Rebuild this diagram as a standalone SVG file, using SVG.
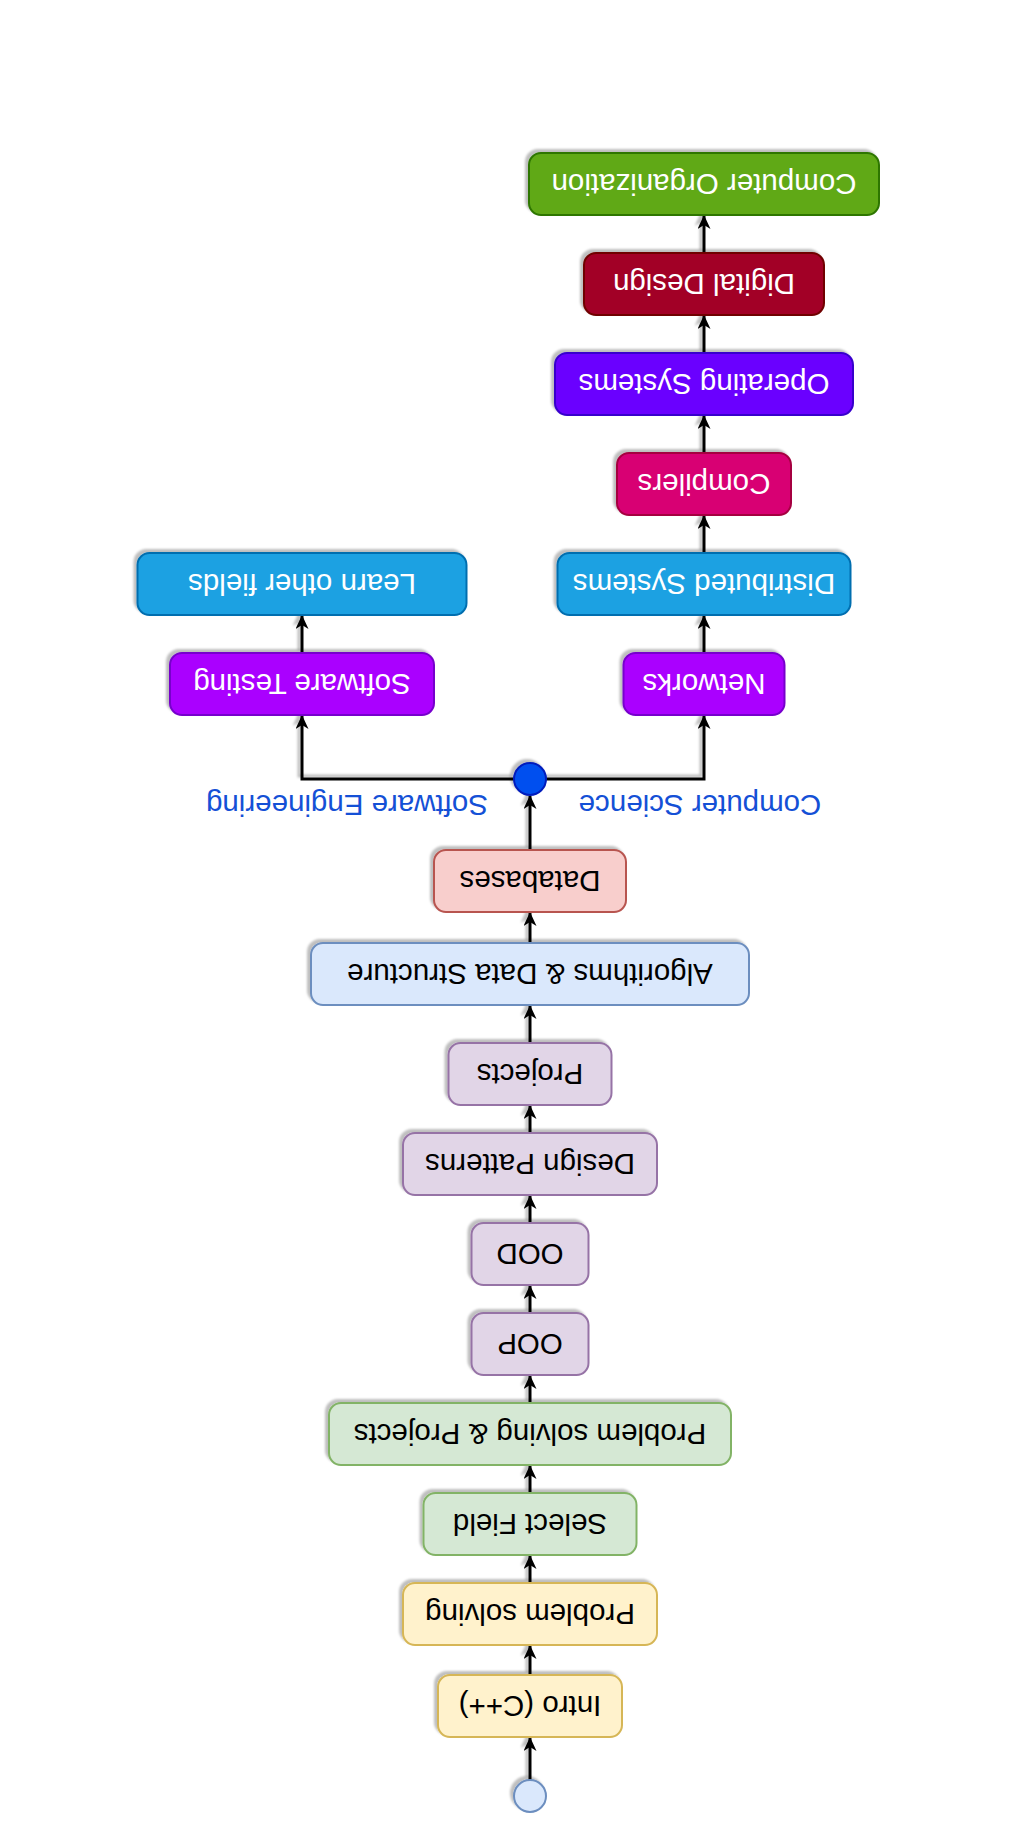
<svg xmlns="http://www.w3.org/2000/svg" width="1030" height="1846" viewBox="0 0 1030 1846">
<defs>
<filter id="sh" filterUnits="userSpaceOnUse" x="0" y="0" width="1030" height="1846">
<feDropShadow dx="-3" dy="-3" stdDeviation="1.2" flood-color="#000" flood-opacity="0.25"/>
</filter>
<marker id="arr" viewBox="0 0 14 13" refX="13" refY="6.5" markerWidth="14" markerHeight="13" markerUnits="userSpaceOnUse" orient="auto">
<path d="M0,0 L14,6.5 L0,13 L4,6.5 Z" fill="#000"/>
</marker>
</defs>
<style>
.b{stroke-width:2;filter:url(#sh)}
.t{font-family:"Liberation Sans",Arial,Helvetica,sans-serif;font-size:29.5px;text-anchor:middle}
.w{fill:#ffffff}
.k{fill:#000000}
.lbl{fill:#1450d6}
.c{fill:none;stroke:#000;stroke-width:3;marker-end:url(#arr);filter:url(#sh)}
</style>
<rect width="1030" height="1846" fill="#ffffff"/>
<g id="connectors">
<path class="c" d="M530,1780 L530,1738"/>
<path class="c" d="M530,1675 L530,1646"/>
<path class="c" d="M530,1583 L530,1556"/>
<path class="c" d="M530,1493 L530,1466"/>
<path class="c" d="M530,1403 L530,1376"/>
<path class="c" d="M530,1313 L530,1286"/>
<path class="c" d="M530,1223 L530,1196"/>
<path class="c" d="M530,1133 L530,1106"/>
<path class="c" d="M530,1043 L530,1006"/>
<path class="c" d="M530,943 L530,913"/>
<path class="c" d="M530,850 L530,796"/>
<path class="c" d="M514,779 L302,779 L302,716"/>
<path class="c" d="M546,779 L704,779 L704,716"/>
<path class="c" d="M704,653 L704,616"/>
<path class="c" d="M704,553 L704,516"/>
<path class="c" d="M704,453 L704,416"/>
<path class="c" d="M704,353 L704,316"/>
<path class="c" d="M704,253 L704,216"/>
<path class="c" d="M302,653 L302,616"/>
</g>
<g id="start"><circle class="b" cx="530" cy="1796" r="16" fill="#dae8fc" stroke="#6c8ebf"/></g>
<g id="branch"><circle class="b" cx="530" cy="779" r="16" fill="#0050ef" stroke="#001DBC"/></g>
<g id="label-se"><text class="t lbl" x="347" y="815.5" transform="rotate(180 347 805)">Software Engineering</text></g>
<g id="label-cs"><text class="t lbl" x="700" y="815.5" transform="rotate(180 700 805)">Computer Science</text></g>
<g id="co"><rect class="b" x="529" y="153" width="350" height="62" rx="12" fill="#60a917" stroke="#2D7600"/><text class="t w" x="704" y="194.5" transform="rotate(180 704 184)">Computer Organization</text></g>
<g id="dd"><rect class="b" x="584" y="253" width="240" height="62" rx="12" fill="#a20025" stroke="#6F0000"/><text class="t w" x="704" y="294.5" transform="rotate(180 704 284)">Digital Design</text></g>
<g id="os"><rect class="b" x="555" y="353" width="298" height="62" rx="12" fill="#6a00ff" stroke="#3700CC"/><text class="t w" x="704" y="394.5" transform="rotate(180 704 384)">Operating Systems</text></g>
<g id="comp"><rect class="b" x="617" y="453" width="174" height="62" rx="12" fill="#d80073" stroke="#A50040"/><text class="t w" x="704" y="494.5" transform="rotate(180 704 484)">Compilers</text></g>
<g id="ds"><rect class="b" x="557.5" y="553" width="293" height="62" rx="12" fill="#1ba1e2" stroke="#006EAF"/><text class="t w" x="704" y="594.5" transform="rotate(180 704 584)">Distributed Systems</text></g>
<g id="net"><rect class="b" x="623.5" y="653" width="161" height="62" rx="12" fill="#aa00ff" stroke="#7700CC"/><text class="t w" x="704" y="694.5" transform="rotate(180 704 684)">Networks</text></g>
<g id="lof"><rect class="b" x="137.5" y="553" width="329" height="62" rx="12" fill="#1ba1e2" stroke="#006EAF"/><text class="t w" x="302" y="594.5" transform="rotate(180 302 584)">Learn other fields</text></g>
<g id="st"><rect class="b" x="170" y="653" width="264" height="62" rx="12" fill="#aa00ff" stroke="#7700CC"/><text class="t w" x="302" y="694.5" transform="rotate(180 302 684)">Software Testing</text></g>
<g id="db"><rect class="b" x="434" y="850" width="192" height="62" rx="12" fill="#f8cecc" stroke="#b85450"/><text class="t k" x="530" y="891.5" transform="rotate(180 530 881)">Databases</text></g>
<g id="ads"><rect class="b" x="311" y="943" width="438" height="62" rx="12" fill="#dae8fc" stroke="#6c8ebf"/><text class="t k" x="530" y="984.5" transform="rotate(180 530 974)">Algorithms &amp; Data Structure</text></g>
<g id="proj"><rect class="b" x="448.5" y="1043" width="163" height="62" rx="12" fill="#e1d5e7" stroke="#9673a6"/><text class="t k" x="530" y="1084.5" transform="rotate(180 530 1074)">Projects</text></g>
<g id="dp"><rect class="b" x="403" y="1133" width="254" height="62" rx="12" fill="#e1d5e7" stroke="#9673a6"/><text class="t k" x="530" y="1174.5" transform="rotate(180 530 1164)">Design Patterns</text></g>
<g id="ood"><rect class="b" x="471.5" y="1223" width="117" height="62" rx="12" fill="#e1d5e7" stroke="#9673a6"/><text class="t k" x="530" y="1264.5" transform="rotate(180 530 1254)">OOD</text></g>
<g id="oop"><rect class="b" x="471.5" y="1313" width="117" height="62" rx="12" fill="#e1d5e7" stroke="#9673a6"/><text class="t k" x="530" y="1354.5" transform="rotate(180 530 1344)">OOP</text></g>
<g id="pp"><rect class="b" x="329" y="1403" width="402" height="62" rx="12" fill="#d5e8d4" stroke="#82b366"/><text class="t k" x="530" y="1444.5" transform="rotate(180 530 1434)">Problem solving &amp; Projects</text></g>
<g id="sf"><rect class="b" x="423.5" y="1493" width="213" height="62" rx="12" fill="#d5e8d4" stroke="#82b366"/><text class="t k" x="530" y="1534.5" transform="rotate(180 530 1524)">Select Field</text></g>
<g id="ps"><rect class="b" x="403" y="1583" width="254" height="62" rx="12" fill="#fff2cc" stroke="#d6b656"/><text class="t k" x="530" y="1624.5" transform="rotate(180 530 1614)">Problem solving</text></g>
<g id="intro"><rect class="b" x="438" y="1675" width="184" height="62" rx="12" fill="#fff2cc" stroke="#d6b656"/><text class="t k" x="530" y="1716.5" transform="rotate(180 530 1706)">Intro (C++)</text></g>
</svg>
